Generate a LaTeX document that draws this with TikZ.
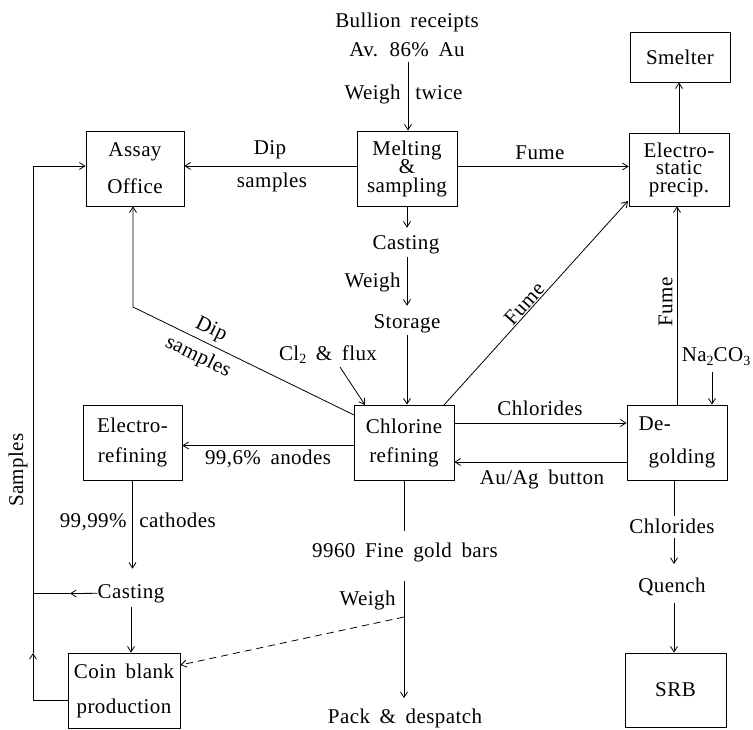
\documentclass[tikz,border=0pt]{standalone}
\usepackage{fontspec}
\setmainfont{Liberation Serif}[LetterSpace=2,WordSpace=1.7]
\usetikzlibrary{arrows.meta}
\newcommand\fsz[1]{\fontsize{21}{#1}\selectfont}
\newcommand\lowsub[1]{\raisebox{-0.35ex}{\fontsize{14}{14}\selectfont #1}}
\begin{document}
\begin{tikzpicture}[x=1pt,y=-1pt, line width=0.8pt,
  >={Straight Barb[length=5.5pt,width=7pt]},
  box/.style={draw, minimum width=100pt, minimum height=75pt, inner sep=0pt, align=center},
  lbl/.style={inner sep=0pt, anchor=base, font=\fsz{22}},
  dashline/.style={dash pattern=on 7pt off 5pt}]
\useasboundingbox (0,0) rectangle (753,730);

% boxes
\node[box, minimum width=98pt, font=\fsz{37}] (assay) at (135,168.5) {Assay\\Office};
\node[box, font=\fsz{18.5}] (melt) at (407,168.5) {Melting\\\&\\sampling};
\node[box, minimum height=50pt, font=\fsz{22}] (smelt) at (680,57) {Smelter};
\node[box, minimum height=73pt, font=\fsz{17.5}] (esp) at (679,169.5) {Electro-\\static\\precip.};
\node[box, font=\fsz{29}] (chlor) at (404,442.5) {Chlorine\\refining};
\node[box, font=\fsz{33}, align=left] (degold) at (677,442.5) {De-\\\hspace*{10pt}golding};
\node[box, minimum width=99pt, font=\fsz{30}] (eref) at (132.5,442.5) {Electro-\\refining};
\node[box, minimum width=112pt, font=\fsz{35}] (coin) at (124,690.5) {Coin blank\\production};
\node[box, minimum width=101pt, minimum height=74pt, font=\fsz{22}] (srb) at (675.5,690) {SRB};

% top input
\node[lbl] (bull) at (407,28) {Bullion receipts};
\node[lbl] (av) at (407,57) {Av. 86\% Au};
\coordinate (p1) at (408,62);
\draw[->] (p1) -- (p1 |- melt.north);
\node[lbl, anchor=base east] (w1) at (401,100) {Weigh};
\node[lbl, anchor=base west] (tw) at (415,100) {twice};

% melt -> assay
\draw[->] ([yshift=2.5pt]melt.west) -- ([yshift=2.5pt]melt.west -| assay.east);
\node[lbl] (dip1) at (270,155) {Dip};
\node[lbl] (dips1) at (272,188) {samples};

% melt -> esp
\draw[->] ([yshift=2pt]melt.east) -- ([yshift=2pt]melt.east -| esp.west);
\node[lbl] (fume1) at (540,160) {Fume};

% esp -> smelter
\draw[->] (esp.north) -- (esp.north |- smelt.south);

% melt -> casting -> storage -> chlorine
\node[lbl] (cast1) at (406,250) {Casting};
\draw[->, shorten >=8pt] (melt.south) -- (melt.south |- cast1.north);
\node[lbl] (stor) at (407,328) {Storage};
\draw[->, shorten <=2pt, shorten >=8pt] (cast1.south -| melt.south) -- (melt.south |- stor.north);
\node[lbl, anchor=base east] (w2) at (401,288) {Weigh};
\draw[->, shorten <=2pt] (stor.south) -- (stor.south |- chlor.north);

% Cl2 & flux
\node[lbl] (cl) at (328,360) {Cl\lowsub{2} \& flux};
\coordinate (clS) at (340,367);
\coordinate (clE) at (365,405);
\draw[->] (clS) -- (clE);

% chlorine -> esp (Fume)
\coordinate (fd1) at (444,405);
\coordinate (fd2) at (628,201);
\draw[->] (fd1) -- (fd2) node[pos=0.47, sloped, above=1pt, inner sep=0pt, font=\fsz{22}] (fume2) {Fume};

% degolding -> esp (Fume)
\draw[->] (degold.north) -- (degold.north |- esp.south);
\node[lbl, rotate=90, anchor=south] (fume3) at (673,302) {Fume};

% Na2CO3
\node[lbl] (na) at (716,362) {Na\lowsub{2}CO\lowsub{3}};
\coordinate (naS) at (712,372);
\draw[->] (naS) -- (naS |- degold.north);

% chlorides / button
\draw[->] ([yshift=19.5pt]chlor.east) -- ([yshift=19.5pt]chlor.east -| degold.west);
\node[lbl] (chl1) at (540,415) {Chlorides};
\draw[->] ([yshift=-19.5pt]degold.west) -- ([yshift=-19.5pt]degold.west -| chlor.east);
\node[lbl] (btn) at (542,484) {Au/Ag button};

% anodes
\draw[->] ([yshift=-3pt]chlor.west) -- ([yshift=-3pt]chlor.west -| eref.east);
\node[lbl] (anod) at (268,464) {99,6\% anodes};

% dip samples diagonal
\coordinate (ds1) at (354,415);
\coordinate (ds2) at (133,307);
\draw[->] (ds1) -- (ds2) -- (ds2 |- assay.south);
\node[rotate=-26, inner sep=0pt, font=\fsz{22}] (dipl1) at (211,330) {Dip};
\node[rotate=-26, inner sep=0pt, font=\fsz{22}] (dipl2) at (198,357) {samples};

% electro-refining -> casting -> coin
\node[lbl] (cast2) at (131,598) {Casting};
\draw[->, shorten >=15pt] (eref.south) -- (eref.south |- cast2.north);
\node[lbl, anchor=base east] (c99) at (127,527) {99,99\%};
\node[lbl, anchor=base west] (cath) at (139,527) {cathodes};
\coordinate (ma1) at (70,593.5);
\coordinate (sL) at (33,593.5);
\draw[->] (cast2.west) -- (ma1);
\draw (ma1) -- (sL);
\draw[->, shorten <=4pt] (cast2.south) -- (cast2.south |- coin.north);

% samples loop
\coordinate (sb) at (33,700);
\coordinate (sm) at (33,653);
\coordinate (st) at (33,166);
\draw[->] (coin.west |- sb) -- (sb) -- (sm);
\draw[->] (sm) -- (st) -- (st -| assay.west);
\node[rotate=90, inner sep=0pt, font=\fsz{22}] (samp) at (18,470) {Samples};

% fine gold bars
\node[lbl] (fine) at (405,557) {9960 Fine gold bars};
\draw[shorten >=11pt] (chlor.south) -- (chlor.south |- fine.north);
\node[lbl] (pack) at (405,723) {Pack \& despatch};
\draw[->, shorten <=19pt, shorten >=10pt] (fine.south -| chlor.south) -- (pack.north -| chlor.south);
\node[lbl, anchor=base east] (w3) at (396,605) {Weigh};
\coordinate (dsh) at (404,617);
\draw[->, dashline] (dsh) -- ([yshift=25.5pt]coin.east);

% degolding -> chlorides -> quench -> SRB
\coordinate (dgx) at (674,480);
\node[lbl] (chl2) at (672,533) {Chlorides};
\node[lbl] (qu) at (672,592) {Quench};
\draw[shorten >=2pt] (dgx) -- (dgx |- chl2.north);
\draw[->, shorten <=4pt, shorten >=13pt] (dgx |- chl2.south) -- (dgx |- qu.north);
\draw[->, shorten <=7pt] (dgx |- qu.south) -- (dgx |- srb.north);
\end{tikzpicture}
\end{document}
